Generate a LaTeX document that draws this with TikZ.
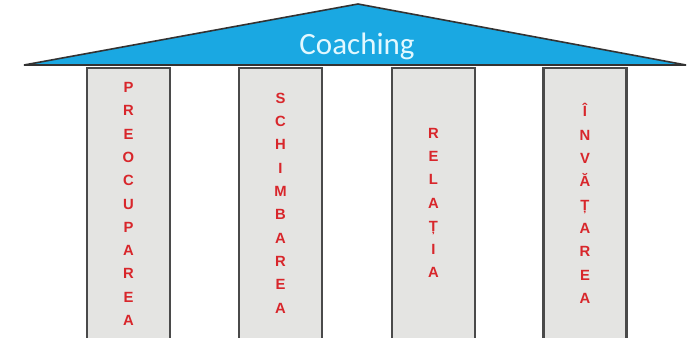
\documentclass[tikz,border=0pt]{standalone}
\usepackage{fontspec}
\setmainfont{Liberation Sans}
\newfontfamily\roofFont{Carlito}
\definecolor{roofblue}{HTML}{1AA8E2}
\definecolor{colgray}{HTML}{E4E4E2}
\definecolor{coledge}{HTML}{4A4A4A}
\definecolor{lettred}{HTML}{D8262B}
\definecolor{rooftext}{HTML}{E2F8FF}
\tikzset{
  pillar/.style={draw=coledge, line width=2.2pt, fill=colgray, minimum width=83pt, minimum height=290pt, anchor=north, inner sep=0pt},
  pillartext/.style={text=lettred, font=\fontsize{14.8}{23.3}\selectfont\bfseries, align=center, inner sep=0pt},
  roofstyle/.style={draw=black!80, line width=1.6pt, fill=roofblue, line join=miter}
}
\begin{document}
\begin{tikzpicture}[x=1pt,y=-1pt]
\useasboundingbox (0,0) rectangle (690,337);
\clip (0,0) rectangle (690,337);
\fill[white] (0,0) rectangle (690,337);
% pillars
\node[pillar] (c1) at (128.5,67) {};
\node[pillar] (c2) at (280.5,67) {};
\node[pillar] (c3) at (433.5,67) {};
\node[pillar] (c4) at (585,67) {};
% roof
\coordinate (apex) at (358,4);
\coordinate (rl) at (24,65);
\coordinate (rr) at (686,65);
\draw[roofstyle] (rl) -- (apex) -- (rr) -- cycle;
\node[text=rooftext, font=\roofFont\fontsize{31}{31}\selectfont, anchor=base] (coach) at (357,55) {Coaching};
% words
\node[pillartext] (w1) at (128.5,204) {P\\R\\E\\O\\C\\U\\P\\A\\R\\E\\A};
\node[pillartext] (w2) at (280.5,203) {S\\C\\H\\I\\M\\B\\A\\R\\E\\A};
\node[pillartext] (w3) at (433.5,203) {R\\E\\L\\A\\Ț\\I\\A};
\node[pillartext] (w4) at (585,203.5) {Î\\N\\V\\Ă\\Ț\\A\\R\\E\\A};
\end{tikzpicture}
\end{document}
